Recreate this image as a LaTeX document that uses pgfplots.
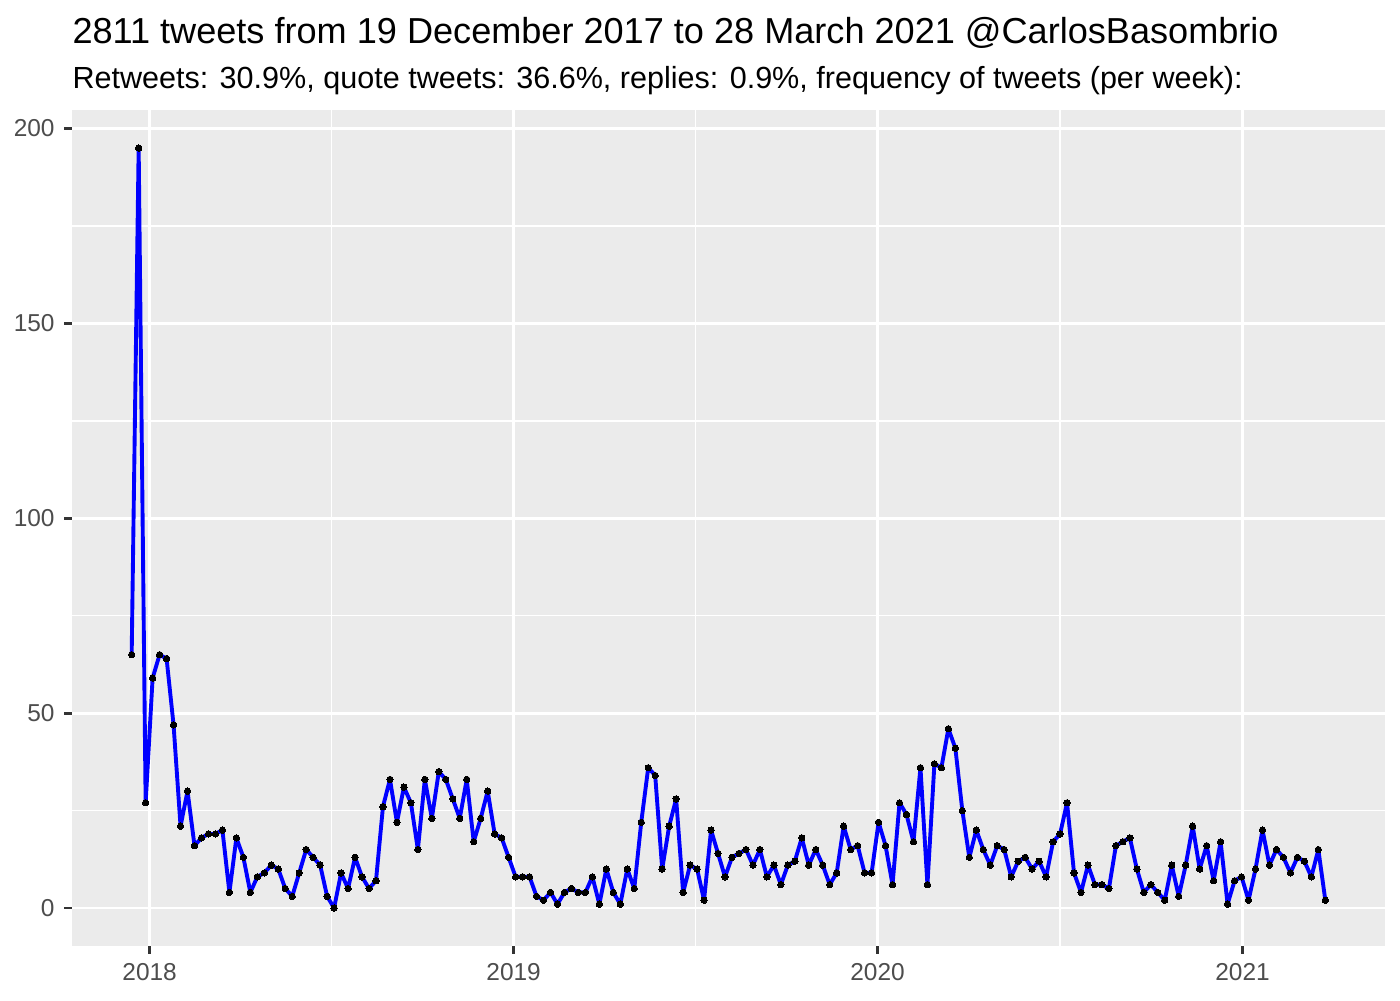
\documentclass[border=0pt]{standalone}
\usepackage{fontspec}
\setmainfont{Liberation Sans}
\usepackage{pgfplots}
\pgfplotsset{compat=1.18}
\definecolor{panelgray}{HTML}{EBEBEB}
\definecolor{ticklab}{HTML}{4D4D4D}
\definecolor{tickgray}{HTML}{333333}

\begin{document}
\begin{tikzpicture}
\useasboundingbox (-25.92pt,-19.44pt) rectangle (478.08pt,340.56pt);
\begin{axis}[
  at={(0,0)}, anchor=south west,
  scale only axis, width=472.68pt, height=300.96pt,
  xmin=-77.85, xmax=1238.85, ymin=-9.75, ymax=204.75,
  axis background/.style={fill=panelgray},
  axis line style={draw=none},
  xtick={0,365,730,1096}, xticklabels={2018,2019,2020,2021},
  minor xtick={182.5,547.5,913},
  ytick={0,50,100,150,200}, minor ytick={25,75,125,175},
  grid=both,
  major grid style={white, line width=1.07pt},
  minor grid style={white, line width=0.53pt},
  tick align=outside, tick pos=left,
  major tick length=2.75pt, minor tick length=0pt,
  major tick style={tickgray, line width=1.07pt},
  tick label style={font=\fontsize{8.8}{10}\selectfont, text=ticklab},
  /pgf/number format/assume math mode=true,
]
% weekly tweet counts, x = days since 1 Jan 2018
\addplot[blue, line width=1.4pt, line join=round, mark=*, mark size=1.15pt,
  mark options={black, fill=black, line width=0pt}] coordinates {
(-18,65) (-11,195) (-4,27) (3,59) (10,65) (17,64) (24,47) (31,21) (38,30) (45,16)
(52,18) (59,19) (66,19) (73,20) (80,4) (87,18) (94,13) (101,4) (108,8) (115,9)
(122,11) (129,10) (136,5) (143,3) (150,9) (157,15) (164,13) (171,11) (178,3) (185,0)
(192,9) (199,5) (206,13) (213,8) (220,5) (227,7) (234,26) (241,33) (248,22) (255,31)
(262,27) (269,15) (276,33) (283,23) (290,35) (297,33) (304,28) (311,23) (318,33) (325,17)
(332,23) (339,30) (346,19) (353,18) (360,13) (367,8) (374,8) (381,8) (388,3) (395,2)
(402,4) (409,1) (416,4) (423,5) (430,4) (437,4) (444,8) (451,1) (458,10) (465,4)
(472,1) (479,10) (486,5) (493,22) (500,36) (507,34) (514,10) (521,21) (528,28) (535,4)
(542,11) (549,10) (556,2) (563,20) (570,14) (577,8) (584,13) (591,14) (598,15) (605,11)
(612,15) (619,8) (626,11) (633,6) (640,11) (647,12) (654,18) (661,11) (668,15) (675,11)
(682,6) (689,9) (696,21) (703,15) (710,16) (717,9) (724,9) (731,22) (738,16) (745,6)
(752,27) (759,24) (766,17) (773,36) (780,6) (787,37) (794,36) (801,46) (808,41) (815,25)
(822,13) (829,20) (836,15) (843,11) (850,16) (857,15) (864,8) (871,12) (878,13) (885,10)
(892,12) (899,8) (906,17) (913,19) (920,27) (927,9) (934,4) (941,11) (948,6) (955,6)
(962,5) (969,16) (976,17) (983,18) (990,10) (997,4) (1004,6) (1011,4) (1018,2) (1025,11)
(1032,3) (1039,11) (1046,21) (1053,10) (1060,16) (1067,7) (1074,17) (1081,1) (1088,7) (1095,8)
(1102,2) (1109,10) (1116,20) (1123,11) (1130,15) (1137,13) (1144,9) (1151,13) (1158,12) (1165,8)
(1172,15) (1179,2)
};
\end{axis}
\node[anchor=base west, inner sep=0pt] at (0pt,325.06pt)
  {\fontsize{13}{15}\selectfont 2811 tweets from 19 December 2017 to 28 March 2021 @CarlosBasombrio};
\node[anchor=base west, inner sep=0pt] at (0pt,308.86pt)
  {\fontsize{11}{13}\selectfont Retweets: 30.9\%, quote tweets: 36.6\%, replies: 0.9\%, frequency of tweets (per week):};
\end{tikzpicture}
\end{document}
